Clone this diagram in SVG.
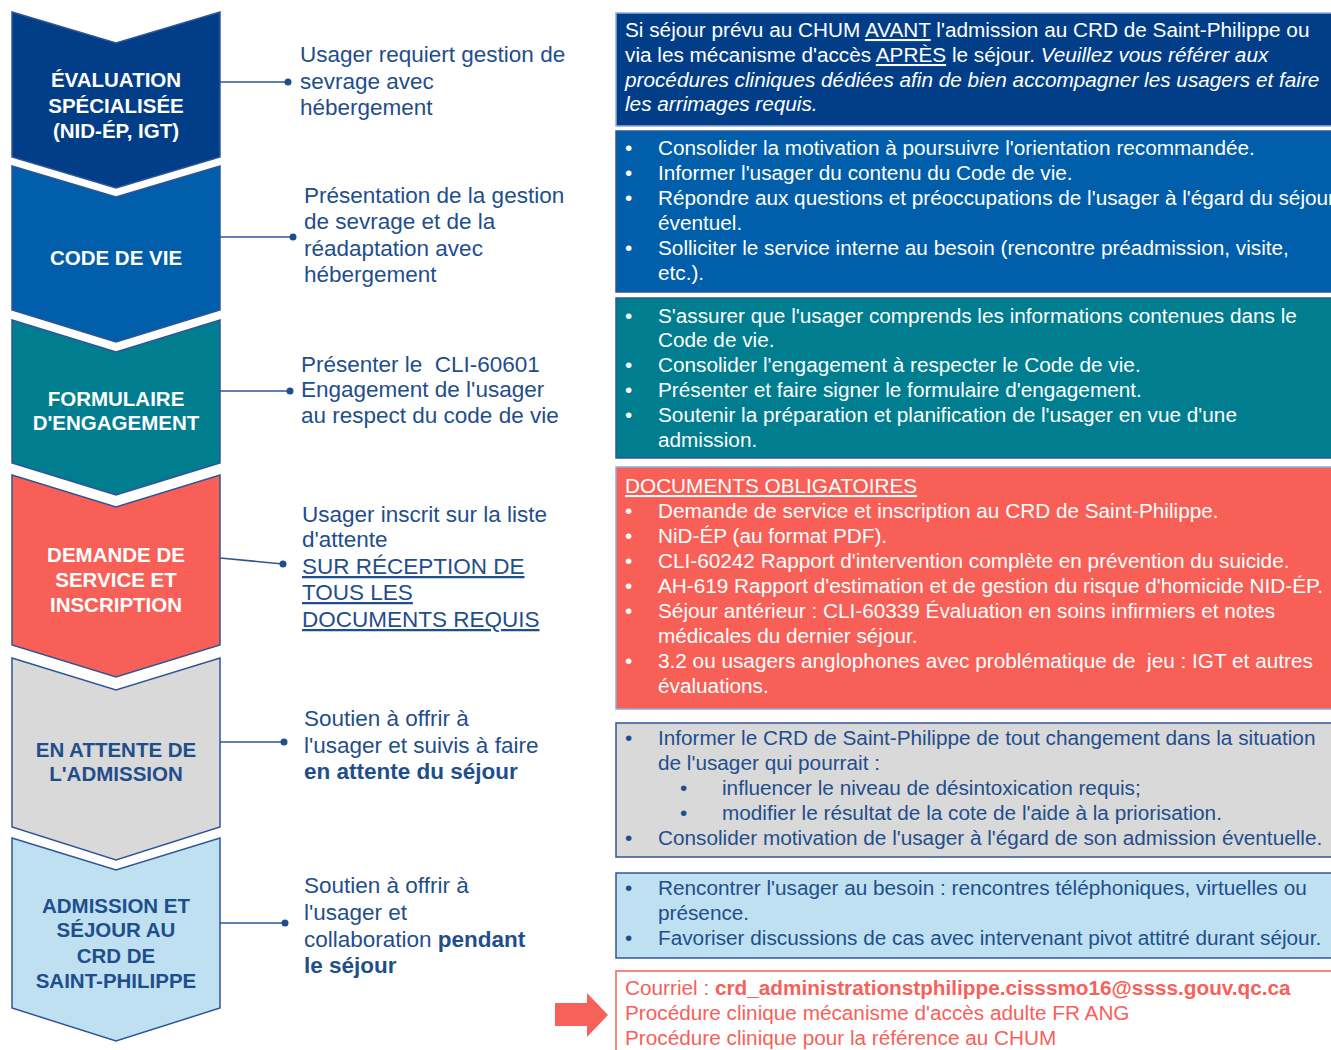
<svg xmlns="http://www.w3.org/2000/svg" width="1331" height="1050" viewBox="0 0 1331 1050">
<style>
.chev{stroke:#2F5597;stroke-width:1.5}
.ct{font-family:"Liberation Sans",Arial,sans-serif;font-weight:bold;font-size:20.5px;text-anchor:middle}
.w{fill:#ffffff}
.db{fill:#1F4E8C}
.mid{font-family:"Liberation Sans",Arial,sans-serif;font-size:22.5px;fill:#1F4E8C}
.rt{font-family:"Liberation Sans",Arial,sans-serif;font-size:20.75px}
.box{stroke:#2F5597;stroke-width:1.5}
.u{text-decoration:underline}
.b{font-weight:bold}
.i{font-style:italic}
.conn{stroke:#2F5597;stroke-width:1.6;fill:none}
.dot{fill:#1F4E8C}
.coral{fill:#F8605A}
</style>

<g id="connectors">
<line class="conn" x1="220" y1="82" x2="288" y2="82"/><circle class="dot" cx="288" cy="82" r="3.5"/>
<line class="conn" x1="220" y1="237" x2="293" y2="237"/><circle class="dot" cx="293" cy="237" r="3.5"/>
<line class="conn" x1="220" y1="391" x2="290" y2="391"/><circle class="dot" cx="290" cy="391" r="3.5"/>
<line class="conn" x1="220" y1="558" x2="283" y2="564"/><circle class="dot" cx="283" cy="564" r="3.5"/>
<line class="conn" x1="220" y1="742" x2="284" y2="742"/><circle class="dot" cx="284" cy="742" r="3.5"/>
<line class="conn" x1="220" y1="923" x2="285" y2="923"/><circle class="dot" cx="285" cy="923" r="3.5"/>
</g>

<g id="step1">
<polygon class="chev" fill="#023E88" points="12,12 116,43 220,12 220,157 116,188 12,157"/>
<text class="ct w" x="116" y="87">ÉVALUATION</text>
<text class="ct w" x="116" y="113">SPÉCIALISÉE</text>
<text class="ct w" x="116" y="138">(NID-ÉP, IGT)</text>
</g>
<g id="step2">
<polygon class="chev" fill="#005EAA" points="12,166 116,197 220,166 220,310 116,342 12,310"/>
<text class="ct w" x="116" y="265">CODE DE VIE</text>
</g>
<g id="step3">
<polygon class="chev" fill="#007D8F" points="12,320 116,352 220,320 220,463 116,495 12,463"/>
<text class="ct w" x="116" y="406">FORMULAIRE</text>
<text class="ct w" x="116" y="430">D'ENGAGEMENT</text>
</g>
<g id="step4">
<polygon class="chev" fill="#F86057" points="12,475 116,507 220,475 220,645 116,677 12,645"/>
<text class="ct w" x="116" y="562">DEMANDE DE</text>
<text class="ct w" x="116" y="587">SERVICE ET</text>
<text class="ct w" x="116" y="612">INSCRIPTION</text>
</g>
<g id="step5">
<polygon class="chev" fill="#D9D9D9" points="12,658 116,690 220,658 220,827 116,860 12,827"/>
<text class="ct db" x="116" y="757">EN ATTENTE DE</text>
<text class="ct db" x="116" y="781">L'ADMISSION</text>
</g>
<g id="step6">
<polygon class="chev" fill="#BEE0F0" points="12,838 116,870 220,838 220,1008 116,1041 12,1008"/>
<text class="ct db" x="116" y="913">ADMISSION ET</text>
<text class="ct db" x="116" y="937">SÉJOUR AU</text>
<text class="ct db" x="116" y="963">CRD DE</text>
<text class="ct db" x="116" y="988">SAINT-PHILIPPE</text>
</g>

<g id="desc1" class="mid">
<text x="300" y="62">Usager requiert gestion de</text>
<text x="300" y="89">sevrage avec</text>
<text x="300" y="115">hébergement</text>
</g>
<g id="desc2" class="mid">
<text x="304" y="203">Présentation de la gestion</text>
<text x="304" y="229">de sevrage et de la</text>
<text x="304" y="256">réadaptation avec</text>
<text x="304" y="282">hébergement</text>
</g>
<g id="desc3" class="mid">
<text x="301" y="372" xml:space="preserve">Présenter le  CLI-60601</text>
<text x="301" y="397">Engagement de l'usager</text>
<text x="301" y="423">au respect du code de vie</text>
</g>
<g id="desc4" class="mid">
<text x="302" y="522">Usager inscrit sur la liste</text>
<text x="302" y="547">d'attente</text>
<text x="302" y="574" class="u">SUR RÉCEPTION DE</text>
<text x="302" y="600" class="u">TOUS LES</text>
<text x="302" y="627" class="u">DOCUMENTS REQUIS</text>
</g>
<g id="desc5" class="mid">
<text x="304" y="726">Soutien à offrir à</text>
<text x="304" y="753">l'usager et suivis à faire</text>
<text x="304" y="779" class="b">en attente du séjour</text>
</g>
<g id="desc6" class="mid">
<text x="304" y="893">Soutien à offrir à</text>
<text x="304" y="920">l'usager et</text>
<text x="304" y="947">collaboration <tspan class="b">pendant</tspan></text>
<text x="304" y="973" class="b">le séjour</text>
</g>

<g id="box1" class="rt">
<rect x="616" y="13" width="730" height="113" fill="#023E88" stroke="#8FAADC" stroke-width="1.5"/>
<text class="w" x="625" y="37">Si séjour prévu au CHUM <tspan class="u">AVANT</tspan> l'admission au CRD de Saint-Philippe ou</text>
<text class="w" x="625" y="62">via les mécanisme d'accès <tspan class="u">APRÈS</tspan> le séjour. <tspan class="i">Veuillez vous référer aux</tspan></text>
<text class="w i" x="625" y="87">procédures cliniques dédiées afin de bien accompagner les usagers et faire</text>
<text class="w i" x="625" y="111">les arrimages requis.</text>
</g>

<g id="box2" class="rt">
<rect class="box" x="616" y="131" width="730" height="161" fill="#005EAA"/>
<g class="w">
<text x="625" y="155">•</text><text x="658" y="155">Consolider la motivation à poursuivre l'orientation recommandée.</text>
<text x="625" y="180">•</text><text x="658" y="180">Informer l'usager du contenu du Code de vie.</text>
<text x="625" y="205">•</text><text x="658" y="205">Répondre aux questions et préoccupations de l'usager à l'égard du séjour</text>
<text x="658" y="230">éventuel.</text>
<text x="625" y="255">•</text><text x="658" y="255">Solliciter le service interne au besoin (rencontre préadmission, visite,</text>
<text x="658" y="280">etc.).</text>
</g>
</g>

<g id="box3" class="rt">
<rect class="box" x="616" y="298" width="730" height="160" fill="#007D8F"/>
<g class="w">
<text x="625" y="323">•</text><text x="658" y="323">S'assurer que l'usager comprends les informations contenues dans le</text>
<text x="658" y="347">Code de vie.</text>
<text x="625" y="372">•</text><text x="658" y="372">Consolider l'engagement à respecter le Code de vie.</text>
<text x="625" y="397">•</text><text x="658" y="397">Présenter et faire signer le formulaire d'engagement.</text>
<text x="625" y="422">•</text><text x="658" y="422">Soutenir la préparation et planification de l'usager en vue d'une</text>
<text x="658" y="447">admission.</text>
</g>
</g>

<g id="box4" class="rt">
<rect x="616" y="467" width="730" height="242" fill="#F86057" stroke="#8FAADC" stroke-width="1.5"/>
<g class="w">
<text x="625" y="493" class="u">DOCUMENTS OBLIGATOIRES</text>
<text x="625" y="518">•</text><text x="658" y="518">Demande de service et inscription au CRD de Saint-Philippe.</text>
<text x="625" y="543">•</text><text x="658" y="543">NiD-ÉP (au format PDF).</text>
<text x="625" y="568">•</text><text x="658" y="568">CLI-60242 Rapport d'intervention complète en prévention du suicide.</text>
<text x="625" y="593">•</text><text x="658" y="593">AH-619 Rapport d'estimation et de gestion du risque d'homicide NID-ÉP.</text>
<text x="625" y="618">•</text><text x="658" y="618">Séjour antérieur : CLI-60339 Évaluation en soins infirmiers et notes</text>
<text x="658" y="643">médicales du dernier séjour.</text>
<text x="625" y="668">•</text><text x="658" y="668" xml:space="preserve">3.2 ou usagers anglophones avec problématique de  jeu : IGT et autres</text>
<text x="658" y="693">évaluations.</text>
</g>
</g>

<g id="box5" class="rt">
<rect class="box" x="616" y="723" width="730" height="134" fill="#D9D9D9"/>
<g class="db">
<text x="625" y="745">•</text><text x="658" y="745">Informer le CRD de Saint-Philippe de tout changement dans la situation</text>
<text x="658" y="770">de l'usager qui pourrait :</text>
<text x="680" y="795">•</text><text x="722" y="795">influencer le niveau de désintoxication requis;</text>
<text x="680" y="820">•</text><text x="722" y="820">modifier le résultat de la cote de l'aide à la priorisation.</text>
<text x="625" y="845">•</text><text x="658" y="845">Consolider motivation de l'usager à l'égard de son admission éventuelle.</text>
</g>
</g>

<g id="box6" class="rt">
<rect class="box" x="616" y="873" width="730" height="85" fill="#BEE0F0"/>
<g class="db">
<text x="625" y="895">•</text><text x="658" y="895">Rencontrer l'usager au besoin : rencontres téléphoniques, virtuelles ou</text>
<text x="658" y="920">présence.</text>
<text x="625" y="945">•</text><text x="658" y="945">Favoriser discussions de cas avec intervenant pivot attitré durant séjour.</text>
</g>
</g>

<g id="box7" class="rt">
<rect x="616" y="971" width="730" height="100" fill="#ffffff" stroke="#F8605A" stroke-width="1.5"/>
<g class="coral">
<text x="625" y="995">Courriel : <tspan class="b">crd_administrationstphilippe.cisssmo16@ssss.gouv.qc.ca</tspan></text>
<text x="625" y="1020">Procédure clinique mécanisme d'accès adulte FR ANG</text>
<text x="625" y="1045">Procédure clinique pour la référence au CHUM</text>
</g>
</g>

<g id="arrow">
<polygon fill="#F8605A" points="555,1003 587,1003 587,993 608,1015 587,1037 587,1026 555,1026"/>
</g>
</svg>
